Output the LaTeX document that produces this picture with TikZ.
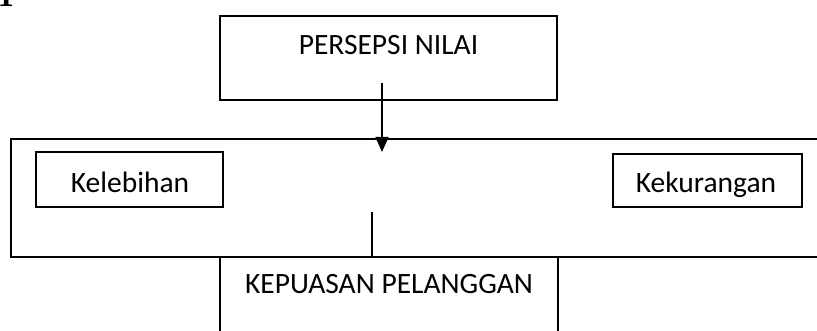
\documentclass[tikz,border=0pt]{standalone}
\usepackage{fontspec}
\setmainfont{Carlito}
\newfontfamily\numfont{Liberation Serif}
\usetikzlibrary{arrows.meta}

\begin{document}
\begin{tikzpicture}[x=1pt,y=-1pt,
  frame/.style={draw,line width=1.7pt,inner sep=0pt},
  label/.style={font=\fontsize{29.5}{34}\selectfont,inner sep=0pt,anchor=base},
  link/.style={line width=1.7pt}]
  \useasboundingbox (0,0) rectangle (817,331);
  \clip (0,0) rectangle (817,331);

  % stray heading numeral at the top edge
  \node[font=\numfont\bfseries\fontsize{32}{36}\selectfont,inner sep=0pt,anchor=base] (num) at (6,7) {1};

  % boxes
  \draw[frame] (220,16) rectangle (557,100);
  \node (top) at (388.5,58) [minimum width=337pt,minimum height=84pt,inner sep=0pt] {};
  \draw[frame] (11,139) rectangle (840,257);
  \node (band) at (425,198) [minimum width=829pt,minimum height=118pt,inner sep=0pt] {};
  \draw[frame] (36,152) rectangle (223,207);
  \node (plus) at (129.5,179.5) [minimum width=187pt,minimum height=55pt,inner sep=0pt] {};
  \draw[frame] (613,154) rectangle (802,207);
  \node (minus) at (707.5,180.5) [minimum width=189pt,minimum height=53pt,inner sep=0pt] {};
  \draw[frame] (220,257) rectangle (558,360);
  \node (bottom) at (389,308) [minimum width=338pt,minimum height=103pt,inner sep=0pt] {};

  % texts
  \node[label] (topt) at (388.5,55) {PERSEPSI NILAI};
  \node[label] (plust) at (130,193) {Kelebihan};
  \node[label] (minust) at (706,193) {Kekurangan};
  \node[label] (bottomt) at (389,294) {KEPUASAN PELANGGAN};

  % connectors
  \coordinate (a1) at (382,83);
  \coordinate (a2) at (382,152);
  \draw[link,-{Triangle[width=13pt,length=15pt]}] (a1) -- (a2);
  \coordinate (b1) at (372,212);
  \draw[link] (b1) -- (b1 |- bottom.north);
\end{tikzpicture}
\end{document}
